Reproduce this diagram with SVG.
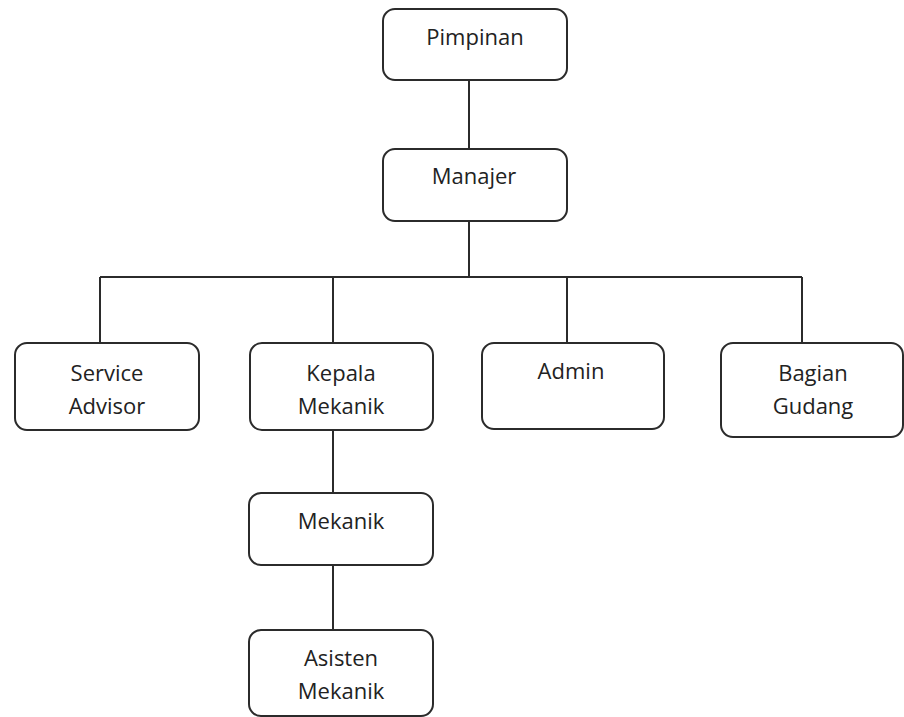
<svg xmlns="http://www.w3.org/2000/svg" width="904" height="717" viewBox="0 0 904 717">
  <style>
    .box { fill: #ffffff; stroke: #2b2b2b; stroke-width: 2; }
    .lbl { font-family: "Open Sans", "Liberation Sans", sans-serif; font-size: 22px; fill: #222222; text-anchor: middle; }
    .wire { fill: none; stroke: #2b2b2b; stroke-width: 2; }
  </style>
  <rect width="904" height="717" fill="#ffffff"/>

  <g id="connectors">
    <line class="wire" x1="469" y1="80" x2="469" y2="149"/>
    <line class="wire" x1="469" y1="221" x2="469" y2="277"/>
    <line class="wire" x1="100" y1="277" x2="802" y2="277"/>
    <line class="wire" x1="100" y1="277" x2="100" y2="343"/>
    <line class="wire" x1="333" y1="277" x2="333" y2="343"/>
    <line class="wire" x1="567" y1="277" x2="567" y2="343"/>
    <line class="wire" x1="802" y1="277" x2="802" y2="343"/>
    <line class="wire" x1="333" y1="430" x2="333" y2="493"/>
    <line class="wire" x1="333" y1="565" x2="333" y2="630"/>
  </g>

  <g id="pimpinan">
    <rect class="box" x="383" y="9" width="184" height="71" rx="12"/>
    <text class="lbl" x="475" y="45">Pimpinan</text>
  </g>
  <g id="manajer">
    <rect class="box" x="383" y="149" width="184" height="72" rx="12"/>
    <text class="lbl" x="474" y="184">Manajer</text>
  </g>
  <g id="service-advisor">
    <rect class="box" x="15" y="343" width="184" height="87" rx="12"/>
    <text class="lbl" x="107" y="381">Service</text>
    <text class="lbl" x="107" y="414">Advisor</text>
  </g>
  <g id="kepala-mekanik">
    <rect class="box" x="250" y="343" width="183" height="87" rx="12"/>
    <text class="lbl" x="341" y="381">Kepala</text>
    <text class="lbl" x="341" y="414">Mekanik</text>
  </g>
  <g id="admin">
    <rect class="box" x="482" y="343" width="182" height="86" rx="12"/>
    <text class="lbl" x="571" y="379">Admin</text>
  </g>
  <g id="bagian-gudang">
    <rect class="box" x="721" y="343" width="182" height="94" rx="12"/>
    <text class="lbl" x="813" y="381">Bagian</text>
    <text class="lbl" x="813" y="414">Gudang</text>
  </g>
  <g id="mekanik">
    <rect class="box" x="249" y="493" width="184" height="72" rx="12"/>
    <text class="lbl" x="341" y="529">Mekanik</text>
  </g>
  <g id="asisten-mekanik">
    <rect class="box" x="249" y="630" width="184" height="86" rx="12"/>
    <text class="lbl" x="341" y="666">Asisten</text>
    <text class="lbl" x="341" y="699">Mekanik</text>
  </g>
</svg>
